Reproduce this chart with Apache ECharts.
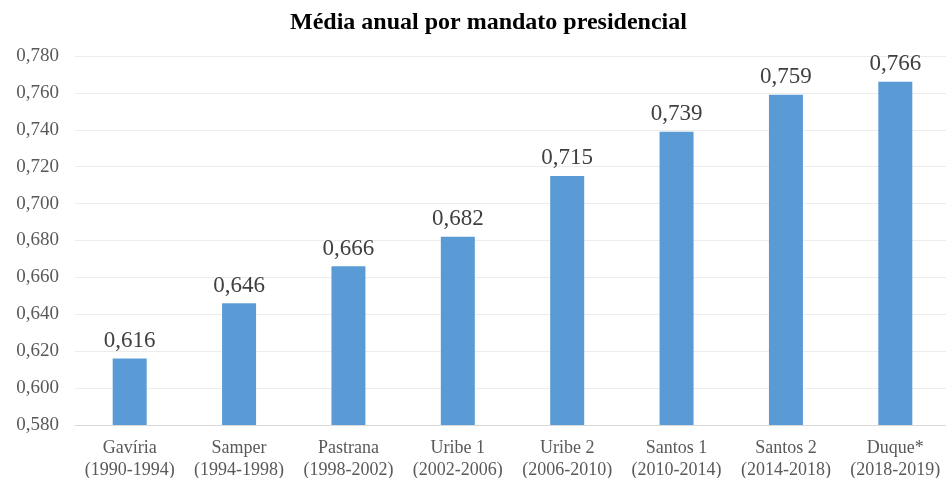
<!DOCTYPE html>
<html>
<head>
<meta charset="utf-8">
<script src="https://cdn.jsdelivr.net/npm/echarts@6/dist/echarts.min.js"></script>
<style>
  html, body { margin: 0; padding: 0; background: #fff; }
  #chart { width: 946px; height: 478px; }
</style>
</head>
<body>
<div id="chart"></div>
<script>
const categories = [
  'Gavíria\n(1990-1994)', 'Samper\n(1994-1998)', 'Pastrana\n(1998-2002)', 'Uribe 1\n(2002-2006)',
  'Uribe 2\n(2006-2010)', 'Santos 1\n(2010-2014)', 'Santos 2\n(2014-2018)', 'Duque*\n(2018-2019)'
];
const values = [0.616, 0.646, 0.666, 0.682, 0.715, 0.739, 0.759, 0.766];
const yMin = 0.58, yMax = 0.78, yStep = 0.02;

const fmt = v => v.toFixed(3).replace('.', ',');
const serif = '"Liberation Serif", "Times New Roman", serif';

const chart = echarts.init(document.getElementById('chart'), null, { renderer: 'canvas' });
chart.setOption({
  animation: false,
  title: {
    text: 'Média anual por mandato presidencial',
    left: 285, top: 6,
    textStyle: { fontFamily: serif, fontWeight: 'bold', fontSize: 24, color: '#000' }
  },
  grid: { left: 75, top: 56, width: 875, bottom: 53, containLabel: false, outerBoundsMode: 'none' },
  xAxis: {
    type: 'category',
    data: categories,
    axisTick: { show: false },
    axisLine: { lineStyle: { color: '#d9d9d9', width: 1 } },
    axisLabel: { fontFamily: serif, fontSize: 18, color: '#595959', lineHeight: 22, margin: 12, interval: 0 }
  },
  yAxis: {
    type: 'value',
    min: yMin, max: yMax, interval: yStep,
    axisLine: { show: false },
    axisTick: { show: false },
    splitLine: { lineStyle: { color: '#ececec', width: 1 } },
    axisLabel: { formatter: fmt, fontFamily: serif, fontSize: 19, color: '#595959', margin: 16 }
  },
  series: [{
    type: 'bar',
    data: values,
    barWidth: 34,
    itemStyle: { color: '#5b9bd5' },
    label: {
      show: true, position: 'top', distance: 6,
      formatter: p => fmt(p.value),
      fontFamily: serif, fontSize: 23, color: '#404040'
    }
  }]
});
</script>
</body>
</html>
